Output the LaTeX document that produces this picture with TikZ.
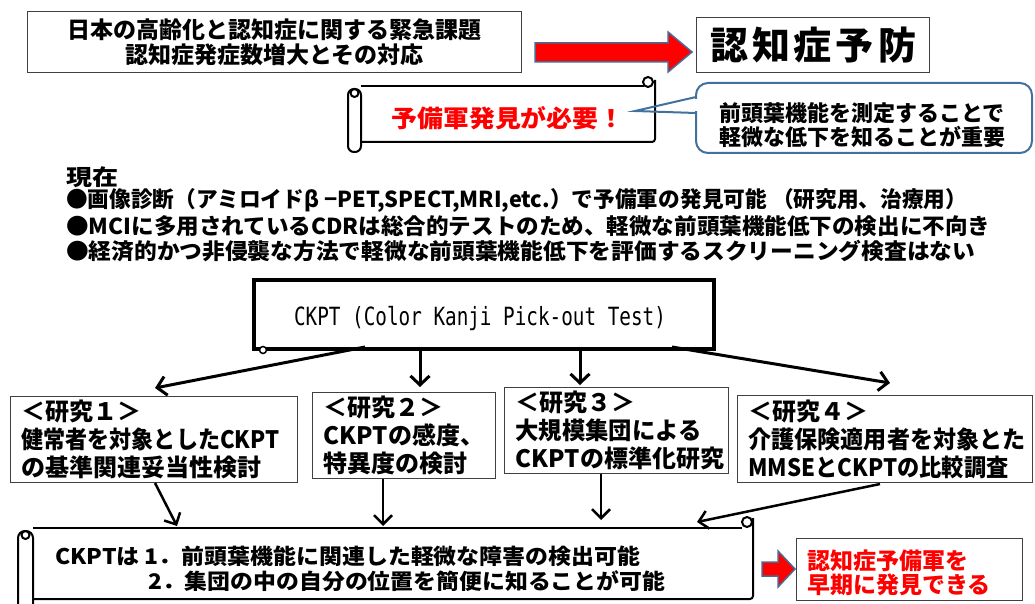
\documentclass[tikz,border=0pt]{standalone}
\usepackage{fontspec}
\usepackage{graphicx}
\usetikzlibrary{arrows.meta}
\setmainfont{Noto Sans CJK JP}
\newfontfamily\monof{DejaVu Sans Mono}
\definecolor{arrowblue}{HTML}{4A6A95}
\definecolor{callblue}{HTML}{41719C}
\definecolor{boxgray}{HTML}{404040}
\newcommand{\fs}[2]{\fontsize{#1}{#2}\selectfont}
\newcommand{\fitw}[2]{\resizebox{#1}{\height}{#2}}
\tikzset{
  thinbox/.style={draw=boxgray, line width=1pt, fill=white},
  kbox/.style={thinbox, anchor=north west, align=left, inner xsep=11pt, inner ysep=0pt,
     font=\bfseries\fs{24}{28}},
  sl/.style={line width=2pt, draw=black},
  arr/.style={line width=3pt, draw=black, -{Straight Barb[length=9pt,width=19pt]}},
  arrb/.style={line width=2.5pt, draw=black, -{Straight Barb[length=9pt,width=18pt]}},
  txt/.style={inner sep=0pt, font=\bfseries},
}
\begin{document}
\begin{tikzpicture}[x=1pt,y=-1pt]
\useasboundingbox[fill=white] (0,0) rectangle (1035,604);

% ---------- top row ----------
\node[thinbox, anchor=north west, minimum width=494pt, minimum height=61pt, align=center,
      inner sep=0pt, font=\bfseries\fs{23}{25}] (issue) at (27,11)
  {日本の高齢化と認知症に関する緊急課題\\認知症発症数増大とその対応};

\draw[fill=red, draw=arrowblue, line width=1.5pt]
  (535,43) -- (668,43) -- (668,32) -- (692,52) -- (668,72) -- (668,62) -- (535,62) -- cycle;

\node[thinbox, anchor=north west, minimum width=233pt, minimum height=55pt, inner sep=0pt,
      font=\bfseries\fs{38}{40}] (prev) at (696,17)
  {認\hspace{4pt}知\hspace{4pt}症\hspace{4pt}予\hspace{4pt}防};

% ---------- scroll: 予備軍発見が必要 ----------
\fill[white] (358,86) rectangle (655,142);
\draw[sl] (361,86) -- (644,86);
\draw[sl, rounded corners=3pt] (655,80) -- (655,142) -- (361,142);
\draw[sl, fill=white] (648,82) circle[radius=5pt];
\draw[sl, fill=white, rounded corners=6pt] (348,89) rectangle (361,152);
\draw[sl] (354.5,93) circle[radius=4pt];
\node[txt, text=red, font=\bfseries\fs{24}{26}] (need) at (508,118)
  {\fitw{233pt}{予備軍発見が必要！}};

% ---------- callout ----------
\draw[draw=callblue, line width=2pt, fill=white, rounded corners=12pt]
  (696,83) rectangle (1032,153);
\fill[white] (694,99) rectangle (699,111);
\coordinate (ctip) at (635,111);
\draw[draw=callblue, line width=2pt, line join=miter] (696,97) -- (ctip) -- (696,113);
\node[txt, align=center, font=\bfseries\fs{22}{24.5}] (callt) at (862,125)
  {前頭葉機能を測定することで\\軽微な低下を知ることが重要};

% ---------- current status ----------
\node[txt, anchor=west, font=\bfseries\fs{22}{24}] (now) at (66,177) {\fitw{52pt}{現在}};
\node[txt, anchor=west, font=\bfseries\fs{22}{24}] (b1) at (66,201)
  {\fitw{901pt}{●画像診断（アミロイドβ −PET,SPECT,MRI,etc.）で予備軍の発見可能 （研究用、治療用）}};
\node[txt, anchor=west, font=\bfseries\fs{22}{24}] (b2) at (66,226)
  {\fitw{924pt}{●MCIに多用されているCDRは総合的テストのため、軽微な前頭葉機能低下の検出に不向き}};
\node[txt, anchor=west, font=\bfseries\fs{22}{24}] (b3) at (66,251)
  {\fitw{909pt}{●経済的かつ非侵襲な方法で軽微な前頭葉機能低下を評価するスクリーニング検査はない}};

% ---------- CKPT ----------
\node[draw=black, line width=4pt, anchor=north west, minimum width=460pt, minimum height=69pt,
      inner sep=0pt, fill=white] (ckpt) at (252,278) {};
\draw[line width=1.5pt, fill=white] (263,350) circle[radius=3.5pt];
\node[inner sep=0pt, font=\monof\fs{19.3}{22}] (ckptt) at (480,319)
  {\scalebox{1}[1.3]{CKPT (Color Kanji Pick-out Test)}};

% ---------- studies ----------
\node[kbox, minimum width=287pt, minimum height=86pt, text width=265pt] (s1) at (10,396)
  {＜研究１＞\\\fitw{258pt}{健常者を対象としたCKPT}\\の基準関連妥当性検討};
\node[kbox, minimum width=183pt, minimum height=86pt, text width=161pt] (s2) at (312,392)
  {＜研究２＞\\CKPTの感度、\\特異度の検討};
\node[kbox, minimum width=224pt, minimum height=86pt, text width=202pt] (s3) at (504,387)
  {＜研究３＞\\\fitw{186pt}{大規模集団による}\\CKPTの標準化研究};
\node[kbox, minimum width=295pt, minimum height=87pt, text width=273pt] (s4) at (737,395)
  {＜研究４＞\\\fitw{277pt}{介護保険適用者を対象とた}\\\fitw{260pt}{MMSEとCKPTの比較調査}};

% arrows CKPT -> studies
\coordinate (c1) at (365,347); \coordinate (t1) at (155,388);
\coordinate (c2) at (420,347); \coordinate (t2) at (420,387);
\coordinate (c3) at (580,347); \coordinate (t3) at (580,385);
\coordinate (c4) at (672,347); \coordinate (t4) at (890,383);
\draw[arr] (c1) -- (t1);
\draw[arr] (c2) -- (t2);
\draw[arr] (c3) -- (t3);
\draw[arr] (c4) -- (t4);

% ---------- bottom scroll ----------
\fill[white] (30,528) rectangle (753,599);
\draw[sl] (33,528) -- (742,528);
\draw[sl, rounded corners=3pt] (753,518) -- (753,599) -- (33,599);
\draw[sl, fill=white] (747,522) circle[radius=5pt];
\draw[sl, fill=white, rounded corners=7pt] (18,531) rectangle (33,620);
\draw[sl] (25.5,535) circle[radius=4pt];
\node[txt, anchor=west, font=\bfseries\fs{21.5}{24}] (res1) at (55,556)
  {\fitw{585pt}{CKPTは 1．前頭葉機能に関連した軽微な障害の検出可能}};
\node[txt, anchor=west, font=\bfseries\fs{21.5}{24}] (res2) at (148,581)
  {\fitw{517pt}{2．集団の中の自分の位置を簡便に知ることが可能}};

% arrows studies -> scroll
\coordinate (u1) at (155,483); \coordinate (v1) at (177,526);
\coordinate (u2) at (383,479); \coordinate (v2) at (383,526);
\coordinate (u3) at (601,474); \coordinate (v3) at (601,520);
\coordinate (u4) at (880,484); \coordinate (v4) at (697,522);
\draw[arrb] (u1) -- (v1);
\draw[arrb] (u2) -- (v2);
\draw[arrb] (u3) -- (v3);
\draw[arrb] (u4) -- (v4);

% ---------- conclusion ----------
\draw[fill=red, draw=arrowblue, line width=1.5pt]
  (762,562) -- (778,562) -- (778,551) -- (795,569) -- (778,587) -- (778,576) -- (762,576) -- cycle;
\node[thinbox, anchor=north west, minimum width=226pt, minimum height=62pt, inner sep=0pt] (concl) at (796,538) {};
\node[txt, anchor=north west, align=left, text=red, font=\bfseries\fs{23}{24}] (conclt) at (807,550)
  {認知症予備軍を\\早期に発見できる};
\end{tikzpicture}
\end{document}
